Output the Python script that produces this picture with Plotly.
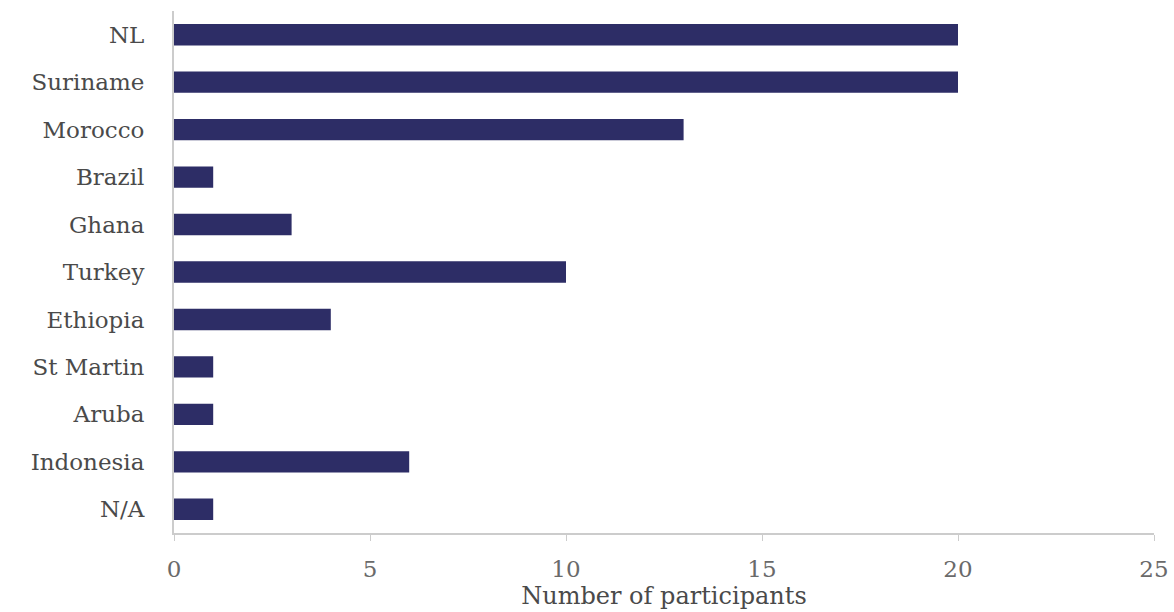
import plotly.graph_objects as go

countries = ["NL", "Suriname", "Morocco", "Brazil", "Ghana", "Turkey",
             "Ethiopia", "St Martin", "Aruba", "Indonesia", "N/A"]
participants = [20, 20, 13, 1, 3, 10, 4, 1, 1, 6, 1]
x_ticks = [0, 5, 10, 15, 20, 25]

fig = go.Figure(go.Bar(
    x=participants,
    y=countries,
    orientation="h",
    width=0.45,
    marker=dict(color="#2d2d66", line=dict(width=0)),
))

serif = "DejaVu Serif, Liberation Serif, serif"
fig.update_layout(
    width=1174, height=612,
    margin=dict(l=174, r=20, t=11, b=79, autoexpand=False),
    paper_bgcolor="white", plot_bgcolor="white",
    showlegend=False,
    font=dict(family=serif, color="#4a4a4a", size=22),
    xaxis=dict(
        range=[0, 25], tickvals=x_ticks,
        automargin=False,
        showgrid=False, zeroline=False,
        showline=True, linecolor="#cccccc", linewidth=2,
        ticks="outside", ticklen=6, tickcolor="#cccccc",
        tickfont=dict(size=23, color="#6a6a6a"),
        ticklabelstandoff=8,
        title=dict(text="Number of participants", standoff=4,
                   font=dict(size=24, color="#4a4a4a")),
    ),
    yaxis=dict(
        categoryorder="array", categoryarray=countries,
        autorange=False, range=[10.5, -0.5],
        automargin=False,
        showgrid=False, zeroline=False,
        showline=True, linecolor="#cccccc", linewidth=2,
        ticks="",
        tickfont=dict(size=23, color="#4a4a4a"),
        ticklabelstandoff=23,
    ),
)

fig.write_html("out.html")
